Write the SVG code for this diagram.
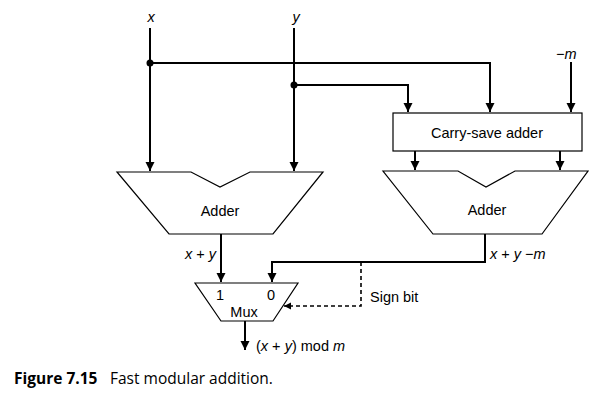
<svg xmlns="http://www.w3.org/2000/svg" width="599" height="401" viewBox="0 0 599 401">
<defs>
<marker id="ah" viewBox="0 0 10 10" refX="10" refY="5" markerWidth="4.5" markerHeight="5" orient="auto" markerUnits="strokeWidth"><path d="M0,0 L10,5 L0,10 z" fill="#000"/></marker>
</defs>
<style>
.w{stroke:#000;stroke-width:2;fill:none}
.d{stroke:#000;stroke-width:1.6;fill:none;stroke-dasharray:4,3}
.b{stroke:#000;stroke-width:1.2;fill:#fff}
text{font-family:"Liberation Sans",Arial,sans-serif;font-size:14.5px;fill:#000}
.i{font-style:italic}
.c{text-anchor:middle}
</style>
<rect width="599" height="401" fill="#fff"/>
<g id="connectors">
<path class="w" d="M150,28 V171" marker-end="url(#ah)"/>
<path class="w" d="M294,28 V171" marker-end="url(#ah)"/>
<path class="w" d="M150,63 H490 V112" marker-end="url(#ah)"/>
<path class="w" d="M294,85 H408 V112" marker-end="url(#ah)"/>
<path class="w" d="M571,62 V112" marker-end="url(#ah)"/>
<path class="w" d="M415,151 V170" marker-end="url(#ah)"/>
<path class="w" d="M560,151 V170" marker-end="url(#ah)"/>
<path class="w" d="M221,234 V282" marker-end="url(#ah)"/>
<path class="w" d="M485,234 V262 H272 V282" marker-end="url(#ah)"/>
<path class="d" d="M361,262 V306 H284" marker-end="url(#ah)"/>
<path class="w" d="M245,321 V350" marker-end="url(#ah)"/>
<circle cx="150" cy="63" r="3.5" fill="#000"/>
<circle cx="294" cy="85" r="3.5" fill="#000"/>
</g>
<g id="csa">
<rect class="b" x="393" y="113" width="189" height="38"/>
<text class="c" x="487" y="138">Carry-save adder</text>
</g>
<g id="adder1">
<path class="b" d="M117,172 H191 L220,187 L250,172 H323 L273,234 H169 Z"/>
<text class="c" x="220" y="216">Adder</text>
</g>
<g id="adder2">
<path class="b" d="M383,171 H458 L486,187 L515,171 H588 L542,234 H433 Z"/>
<text class="c" x="487" y="215">Adder</text>
</g>
<g id="mux">
<path class="b" d="M195,283 H298 L273,321 H221 Z"/>
<text class="c" x="220" y="300">1</text>
<text class="c" x="271" y="300">0</text>
<text class="c" x="244" y="317">Mux</text>
</g>
<g id="labels">
<text class="c i" x="151" y="22">x</text>
<text class="c i" x="296" y="22">y</text>
<text x="556" y="59"><tspan class="i">−m</tspan></text>
<text x="216" y="259" text-anchor="end"><tspan class="i">x</tspan> + <tspan class="i">y</tspan></text>
<text x="490" y="259"><tspan class="i">x</tspan> + <tspan class="i">y</tspan> −<tspan class="i">m</tspan></text>
<text x="370" y="302">Sign bit</text>
<text x="256" y="351">(<tspan class="i">x</tspan> + <tspan class="i">y</tspan>) mod <tspan class="i">m</tspan></text>
</g>
<g id="caption">
<text x="14" y="384" style="font-family:'Open Sans','Liberation Sans',sans-serif;font-size:15.5px;font-weight:bold">Figure 7.15</text>
<text x="110" y="384" style="font-family:'Open Sans','Liberation Sans',sans-serif;font-size:15.5px">Fast modular addition.</text>
</g>
</svg>
